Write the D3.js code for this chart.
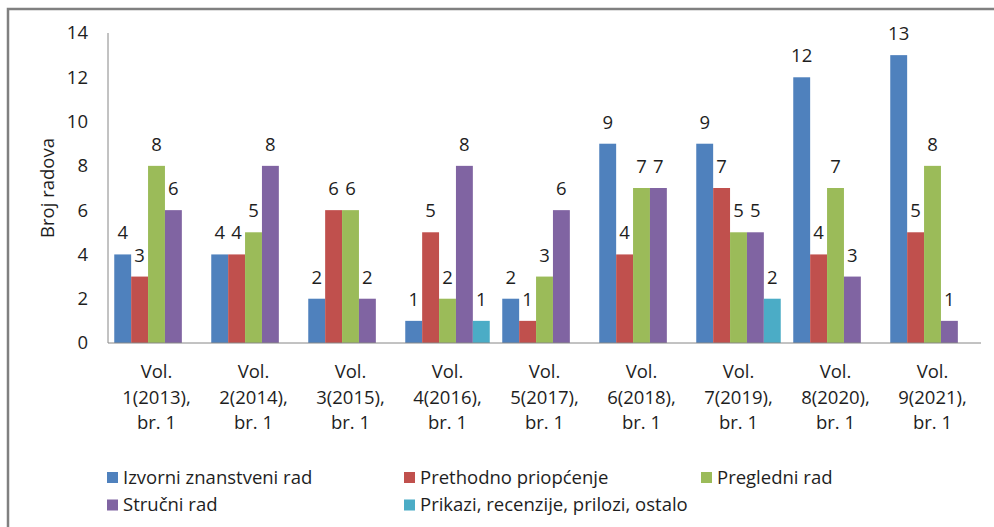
<!DOCTYPE html>
<html>
<head>
<meta charset="utf-8">
<script src="https://cdn.jsdelivr.net/npm/d3@7"></script>
<style>
  body { margin: 0; background: #fff; }
  text { font-family: "Open Sans", Lato, sans-serif; fill: #1e1e1e; }
</style>
</head>
<body>
<script>
const categories = ["Vol. 1(2013), br. 1", "Vol. 2(2014), br. 1", "Vol. 3(2015), br. 1",
  "Vol. 4(2016), br. 1", "Vol. 5(2017), br. 1", "Vol. 6(2018), br. 1",
  "Vol. 7(2019), br. 1", "Vol. 8(2020), br. 1", "Vol. 9(2021), br. 1"];
const catLines = [
  ["Vol.", "1(2013),", "br. 1"], ["Vol.", "2(2014),", "br. 1"], ["Vol.", "3(2015),", "br. 1"],
  ["Vol.", "4(2016),", "br. 1"], ["Vol.", "5(2017),", "br. 1"], ["Vol.", "6(2018),", "br. 1"],
  ["Vol.", "7(2019),", "br. 1"], ["Vol.", "8(2020),", "br. 1"], ["Vol.", "9(2021),", "br. 1"]
];
const seriesNames = ["Izvorni znanstveni rad", "Prethodno priopćenje", "Pregledni rad",
  "Stručni rad", "Prikazi, recenzije, prilozi, ostalo"];
const izvorni   = [4, 4, 2, 1, 2, 9, 9, 12, 13];
const prethodno = [3, 4, 6, 5, 1, 4, 7, 4, 5];
const pregledni = [8, 5, 6, 2, 3, 7, 5, 7, 8];
const strucni   = [6, 8, 2, 8, 6, 7, 5, 3, 1];
const prikazi   = [0, 0, 0, 1, 0, 0, 2, 0, 0];
const seriesValues = [izvorni, prethodno, pregledni, strucni, prikazi];
const colors = ["#4F81BD", "#C0504D", "#9BBB59", "#8064A2", "#4BACC6"];
const yTicks = [0, 2, 4, 6, 8, 10, 12, 14];

const width = 994, height = 527;
const fs = 18.5;
const svg = d3.select("body").append("svg")
  .attr("width", width).attr("height", height);

// chart frame (cropped at right/bottom in the original)
svg.append("rect")
  .attr("x", 8).attr("y", 9).attr("width", 1000).attr("height", 540)
  .attr("fill", "none").attr("stroke", "#808080").attr("stroke-width", 2.5);

const plot = { left: 108, right: 981, top: 33, bottom: 343 };

const x0 = d3.scaleBand().domain(categories).range([plot.left, plot.right]).padding(0);
const x1 = d3.scaleBand().domain(d3.range(seriesNames.length))
  .range([0, x0.bandwidth()]).paddingInner(0).paddingOuter(0.37);
const y = d3.scaleLinear().domain([0, 14]).range([plot.bottom, plot.top]);

// y tick labels
svg.append("g").selectAll("text").data(yTicks).join("text")
  .attr("x", 88).attr("y", d => y(d))
  .attr("dy", "0.35em").attr("text-anchor", "end")
  .attr("font-size", fs).text(d => d);

// axis title
svg.append("text")
  .attr("transform", `translate(54,${(plot.top + plot.bottom) / 2}) rotate(-90)`)
  .attr("text-anchor", "middle").attr("font-size", fs).text("Broj radova");

// bars
const rows = [];
seriesValues.forEach((vals, s) => vals.forEach((v, i) => rows.push({ s, i, v })));

svg.append("g").selectAll("rect").data(rows.filter(d => d.v > 0)).join("rect")
  .attr("x", d => x0(categories[d.i]) + x1(d.s))
  .attr("width", x1.bandwidth())
  .attr("y", d => y(d.v))
  .attr("height", d => y(0) - y(d.v))
  .attr("fill", d => colors[d.s]);

// value labels
svg.append("g").selectAll("text").data(rows.filter(d => d.v > 0)).join("text")
  .attr("x", d => x0(categories[d.i]) + x1(d.s) + x1.bandwidth() / 2)
  .attr("y", d => y(d.v) - 15)
  .attr("text-anchor", "middle").attr("font-size", fs)
  .text(d => d.v);

// axis lines
svg.append("line")
  .attr("x1", plot.left).attr("x2", plot.left)
  .attr("y1", plot.top).attr("y2", plot.bottom)
  .attr("stroke", "#868686").attr("stroke-width", 1);
svg.append("line")
  .attr("x1", plot.left).attr("x2", plot.right)
  .attr("y1", plot.bottom).attr("y2", plot.bottom)
  .attr("stroke", "#868686").attr("stroke-width", 1);

// category labels
const catG = svg.append("g").selectAll("text").data(categories).join("text")
  .attr("text-anchor", "middle").attr("font-size", fs);
catG.selectAll("tspan").data((d, i) => catLines[i]).join("tspan")
  .attr("x", function () { return x0(d3.select(this.parentNode).datum()) + x0.bandwidth() / 2; })
  .attr("y", (d, j) => 378 + j * 25.5)
  .text(d => d);

// legend
const legend = svg.append("g").selectAll("g").data(seriesNames).join("g")
  .attr("transform", (d, i) => `translate(${107 + (i % 3) * 297},${472 + Math.floor(i / 3) * 27.5})`);
legend.append("rect")
  .attr("width", 11).attr("height", 11)
  .attr("fill", (d, i) => colors[i]);
legend.append("text")
  .attr("x", 16).attr("y", 5.5).attr("dy", "0.35em")
  .attr("font-size", fs).text(d => d);
</script>
</body>
</html>
